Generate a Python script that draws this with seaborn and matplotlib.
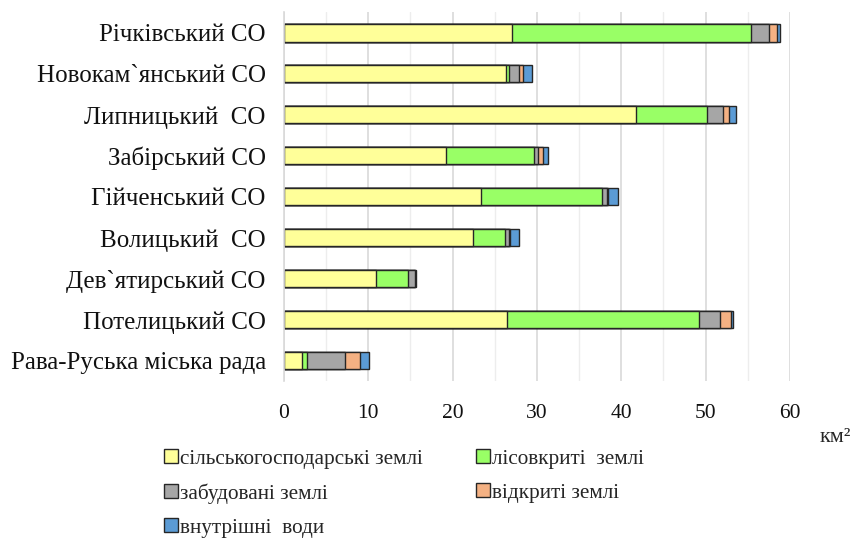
import numpy as np
import pandas as pd
import matplotlib
matplotlib.use("Agg")
import matplotlib.pyplot as plt
import seaborn as sns
from matplotlib.patches import Patch
from matplotlib.ticker import MultipleLocator

# categories top -> bottom
councils = ["Річківський СО", "Новокам`янський СО", "Липницький  СО",
            "Забірський СО", "Гійченський СО", "Волицький  СО",
            "Дев`ятирський СО", "Потелицький СО", "Рава-Руська міська рада"]

# km²
agri   = [27.0, 26.3, 41.8, 19.2, 23.4, 22.4, 10.9, 26.4, 2.2]
forest = [28.4,  0.4,  8.3, 10.4, 14.3,  3.8,  3.8, 22.8, 0.6]
built  = [ 2.1,  1.2,  1.9,  0.5,  0.6,  0.5,  0.8,  2.5, 4.4]
open_  = [ 0.9,  0.5,  0.8,  0.6,  0.1,  0.1,  0.1,  1.3, 1.8]
water  = [ 0.4,  1.0,  0.8,  0.6,  1.2,  1.1,  0.1,  0.2, 1.1]

series = ["сільськогосподарські землі", "лісовкриті  землі",
          "забудовані землі", "відкриті землі", "внутрішні  води"]
colors = ["#FFFF99", "#99FF66", "#A6A6A6", "#F4B183", "#5B9BD5"]

df = pd.DataFrame({"council": councils, series[0]: agri, series[1]: forest,
                   series[2]: built, series[3]: open_, series[4]: water})
cum = df[series].cumsum(axis=1)

sns.set_style("white")
plt.rcParams["font.family"] = ["Liberation Serif", "DejaVu Serif"]

fig = plt.figure(figsize=(8.55, 5.4), dpi=100)
ax = fig.add_axes([0.332, 0.294, 0.592, 0.683])

# draw longest cumulative first so shorter segments sit on top
for name, color in reversed(list(zip(series, colors))):
    sns.barplot(x=cum[name], y=df["council"], orient="h", color=color,
                edgecolor="#262626", linewidth=1.0, width=0.42,
                saturation=1, ax=ax)

ax.set_xlim(0, 60)
ax.xaxis.set_major_locator(MultipleLocator(10))
ax.xaxis.set_minor_locator(MultipleLocator(5))
ax.grid(axis="x", which="major", color="#D9D9D9", linewidth=1.2)
ax.grid(axis="x", which="minor", color="#EDEDED", linewidth=1.0)
ax.set_axisbelow(True)
ax.set_xlabel("")
ax.set_ylabel("")
for s in ["top", "right", "bottom"]:
    ax.spines[s].set_visible(False)
ax.spines["left"].set_color("#D9D9D9")
ax.spines["left"].set_linewidth(1.2)
ax.tick_params(axis="both", length=0, colors="#111111")
ax.tick_params(axis="y", pad=13, labelsize=18)
ax.tick_params(axis="x", pad=16.5, labelsize=15.5)

fig.text(835 / 855, 1 - 437 / 540, "км²", fontsize=16, ha="center", va="center")

handles = [Patch(facecolor=c, edgecolor="#262626", linewidth=1.0, label=n)
           for n, c in zip(series, colors)]
order = [0, 2, 4, 1, 3]
fig.legend([handles[i] for i in order], [series[i] for i in order],
           loc="upper left", bbox_to_anchor=(164 / 855, 1 - 449 / 540),
           ncol=2, frameon=False, fontsize=15.3, handlelength=0.65,
           handleheight=0.65, handletextpad=0.1, labelspacing=0.68,
           columnspacing=2.5, borderaxespad=0, borderpad=0)

fig.savefig("out.png", dpi=100)
